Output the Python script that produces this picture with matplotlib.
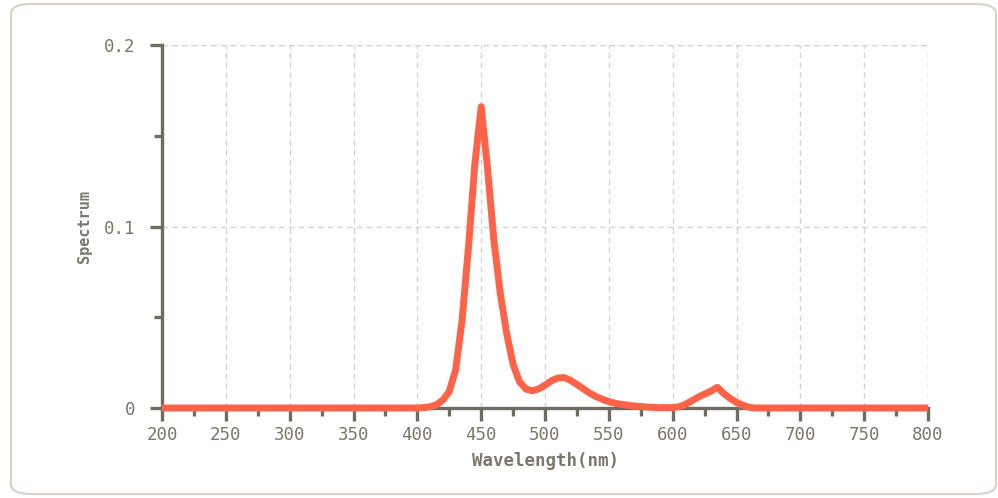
import numpy as np
import matplotlib.pyplot as plt
from matplotlib.patches import FancyBboxPatch
from matplotlib.ticker import MultipleLocator

# spectrum samples (nm, relative power)
wavelength = [200, 395, 400, 405, 410, 415, 420, 425, 430, 435, 440, 445, 450,
              455, 460, 465, 470, 475, 480, 485, 490, 495, 500, 505, 510, 515,
              520, 525, 530, 535, 540, 545, 550, 555, 560, 570, 580, 590, 600,
              605, 610, 615, 620, 625, 630, 635, 640, 645, 650, 655, 660, 665,
              800]
spectrum = [0.0, 0.0, 0.0, 0.0002, 0.0007, 0.0018, 0.0044, 0.009, 0.021, 0.048,
            0.088, 0.134, 0.166, 0.132, 0.092, 0.063, 0.041, 0.024, 0.0145,
            0.0105, 0.0095, 0.0105, 0.0125, 0.015, 0.0165, 0.0168, 0.0152, 0.013,
            0.0106, 0.0082, 0.0063, 0.0048, 0.0035, 0.0026, 0.002, 0.0011, 0.0005,
            0.0002, 0.0002, 0.0007, 0.002, 0.004, 0.006, 0.0077, 0.0093, 0.0114,
            0.008, 0.0053, 0.0031, 0.0015, 0.0004, 0.0, 0.0]

x_ticks = list(range(200, 801, 50))
y_ticks = [0, 0.1, 0.2]
y_tick_labels = ['0', '0.1', '0.2']

AXIS_COLOR = '#6f6c62'
TEXT_COLOR = '#7a776d'
LINE_COLOR = '#ff6347'
GRID_COLOR = '#d4d4d4'
MONO = 'DejaVu Sans Mono'

fig = plt.figure(figsize=(9.98, 4.98), dpi=100)
ax = fig.add_axes([162 / 998, 1 - 408 / 498, (928 - 162) / 998, (408 - 45) / 498])

# rounded panel border
frame = FancyBboxPatch((11 / 998, 4 / 498), 985 / 998, 490 / 498,
                       boxstyle='round,pad=0,rounding_size=0.02',
                       transform=fig.transFigure, facecolor='none',
                       edgecolor='#d6d3cc', linewidth=1.6, zorder=0)
fig.patches.append(frame)

ax.plot(wavelength, spectrum, color=LINE_COLOR, linewidth=5,
        solid_joinstyle='round', solid_capstyle='butt', zorder=3, clip_on=False)

ax.set_xlim(200, 800)
ax.set_ylim(0, 0.2)

ax.set_xticks(x_ticks)
ax.set_xticklabels([str(v) for v in x_ticks])
ax.xaxis.set_minor_locator(MultipleLocator(25))
ax.set_yticks(y_ticks)
ax.set_yticklabels(y_tick_labels)
ax.yaxis.set_minor_locator(MultipleLocator(0.05))

for side in ('top', 'right'):
    ax.spines[side].set_visible(False)
for side in ('left', 'bottom'):
    ax.spines[side].set_color(AXIS_COLOR)
    ax.spines[side].set_linewidth(2.4)

ax.tick_params(axis='both', which='major', length=9, width=2.4,
               color=AXIS_COLOR, labelcolor=TEXT_COLOR, labelsize=12.5)
ax.tick_params(axis='both', which='minor', length=5.5, width=2.4,
               color=AXIS_COLOR)
ax.tick_params(axis='x', which='major', pad=4)
ax.tick_params(axis='y', which='major', pad=10)
for lab in ax.get_xticklabels() + ax.get_yticklabels():
    lab.set_family(MONO)

# dashed grid, including the top and right borders
ax.grid(True, which='major', linestyle=(0, (4, 3)), color=GRID_COLOR, linewidth=1)
ax.axvline(800, linestyle=(0, (4, 3)), color=GRID_COLOR, linewidth=1, zorder=1)
ax.axhline(0.2, linestyle=(0, (4, 3)), color=GRID_COLOR, linewidth=1, zorder=1)
ax.set_axisbelow(True)

ax.set_xlabel('Wavelength(nm)', family=MONO, fontsize=12.5, fontweight='bold',
              color=TEXT_COLOR, labelpad=6)
ax.set_ylabel('Spectrum', family=MONO, fontsize=11, fontweight='bold',
              color=TEXT_COLOR, labelpad=9)

fig.savefig('out.png', dpi=100, facecolor='white')
